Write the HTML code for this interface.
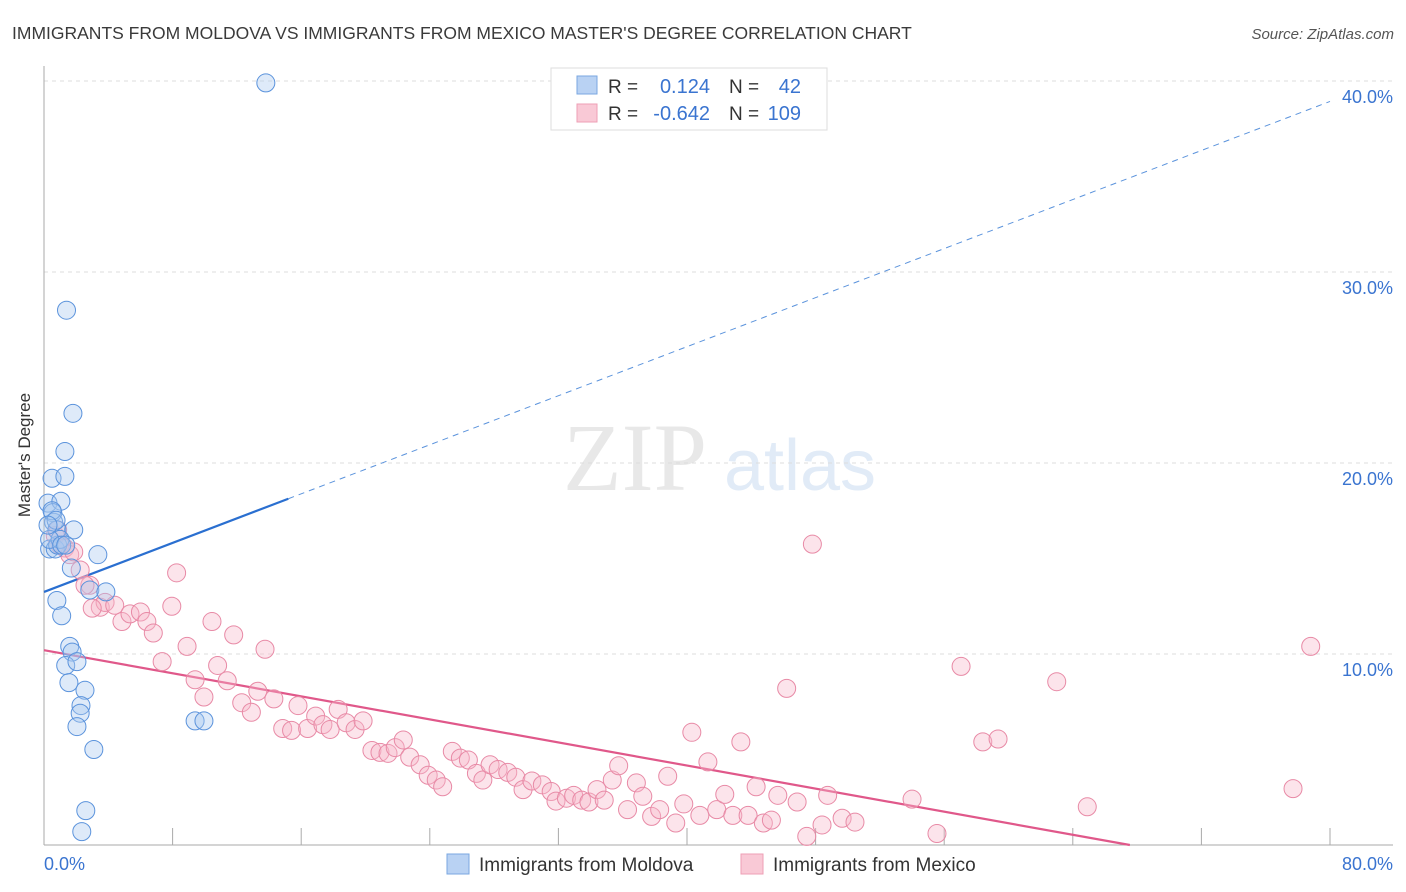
<!DOCTYPE html>
<html><head><meta charset="utf-8"><style>
body{margin:0;background:#fff;font-family:"Liberation Sans",sans-serif}
svg{display:block}
</style></head><body>
<svg id="chart" width="1406" height="892">
<text x="12" y="39" font-size="17.5" fill="#3a3a3a">IMMIGRANTS FROM MOLDOVA VS IMMIGRANTS FROM MEXICO MASTER'S DEGREE CORRELATION CHART</text>
<text x="1394" y="39" font-size="15" fill="#555" font-style="italic" text-anchor="end">Source: ZipAtlas.com</text>
<text x="30" y="455" font-size="17" fill="#333" text-anchor="middle" transform="rotate(-90 30 455)">Master's Degree</text>
<g><text x="635" y="490" font-size="96" fill="#e8e8e8" text-anchor="middle" font-family="Liberation Serif,serif">ZIP</text><text x="800" y="490" font-size="72" fill="#e1ebf7" text-anchor="middle">atlas</text></g>
<g id="grid"></g><g id="axes"></g><g id="lines"></g><g id="points"></g>
<g>
<rect x="551" y="68" width="276" height="62" fill="#fff" stroke="#ddd"/>
<rect x="577" y="76" width="20" height="18" fill="#b9d2f3" stroke="#7aa7e0"/>
<rect x="577" y="104" width="20" height="18" fill="#f9c9d6" stroke="#ee9fb5"/>
<text x="608" y="93" font-size="19" fill="#333">R =</text><text x="710" y="93" font-size="20" fill="#3a74d0" text-anchor="end">0.124</text>
<text x="729" y="93" font-size="19" fill="#333">N =</text><text x="801" y="93" font-size="20" fill="#3a74d0" text-anchor="end">42</text>
<text x="608" y="120" font-size="19" fill="#333">R =</text><text x="710" y="120" font-size="20" fill="#3a74d0" text-anchor="end">-0.642</text>
<text x="729" y="120" font-size="19" fill="#333">N =</text><text x="801" y="120" font-size="20" fill="#3a74d0" text-anchor="end">109</text>
</g>
<g>
<rect x="447" y="854" width="22" height="20" fill="#b9d2f3" stroke="#7aa7e0"/>
<text x="479" y="871" font-size="19" fill="#333">Immigrants from Moldova</text>
<rect x="741" y="854" width="22" height="20" fill="#f9c9d6" stroke="#ee9fb5"/>
<text x="773" y="871" font-size="19" fill="#333">Immigrants from Mexico</text>
</g>
</svg>
<script>
const yTicks=[10,20,30,40];
const yTickLabels=["10.0%","20.0%","30.0%","40.0%"];
const xTickLabels=["0.0%","80.0%"];
const moldovaX=[13.8,1.4,1.8,1.3,0.5,1.3,0.25,1.05,0.55,0.6,0.8,1.85,0.35,0.7,3.35,1.7,2.85,3.85,0.8,1.1,1.6,1.75,1.35,2.05,1.55,2.55,2.3,2.25,2.05,3.1,9.4,9.95,2.6,2.35,0.85,1.0,0.35,0.5,0.75,0.25,1.1,1.35];
const moldovaY=[39.9,28.0,22.6,20.6,19.2,19.3,17.9,18.0,17.4,16.9,16.5,16.5,15.5,15.5,15.2,14.5,13.35,13.25,12.8,12.0,10.4,10.1,9.4,9.6,8.5,8.1,7.3,6.9,6.2,5.0,6.5,6.5,1.8,0.7,15.7,16.0,16.0,17.5,17.0,16.75,15.7,15.7];
const mexicoX=[0.7,1.0,1.3,1.6,2.25,2.85,3.5,3.8,4.4,4.85,5.35,6.0,6.4,6.8,7.35,8.25,7.95,8.9,9.4,9.95,10.45,10.8,11.4,11.8,12.3,12.9,13.3,13.75,14.3,14.85,15.4,15.8,16.4,16.9,17.35,17.8,18.3,18.8,19.35,19.85,20.4,20.9,21.4,21.85,22.35,22.75,23.4,23.9,24.4,24.8,25.4,25.9,26.4,26.9,27.3,27.75,28.25,28.85,29.35,29.8,30.35,31.0,31.55,31.85,32.5,32.95,33.45,33.9,34.4,34.85,35.35,35.75,36.3,36.85,37.25,37.8,38.3,38.8,39.3,39.8,40.3,40.8,41.3,41.85,42.35,42.85,43.35,43.8,44.3,44.75,45.25,45.65,46.2,46.85,47.45,47.8,48.4,48.75,49.65,50.45,54.0,55.55,57.05,58.4,59.35,63.0,64.9,77.7,78.8,1.85,2.55,3.0,0.85];
const mexicoY=[16.2,15.7,15.55,15.2,14.4,13.6,12.45,12.7,12.55,11.7,12.1,12.2,11.7,11.1,9.6,14.25,12.5,10.4,8.65,7.75,11.7,9.4,8.6,11.0,7.45,6.95,8.05,10.25,7.65,6.1,6.0,7.3,6.1,6.75,6.3,6.05,7.1,6.4,6.05,6.5,4.95,4.85,4.8,5.1,5.5,4.6,4.2,3.65,3.4,3.05,4.9,4.55,4.45,3.75,3.4,4.2,3.95,3.8,3.55,2.9,3.35,3.15,2.8,2.3,2.45,2.6,2.35,2.25,2.9,2.35,3.4,4.15,1.85,3.25,2.55,1.5,1.85,3.6,1.15,2.15,5.9,1.55,4.35,1.85,2.65,1.55,5.4,1.55,3.05,1.15,1.3,2.6,8.2,2.25,0.45,15.75,1.05,2.6,1.4,1.2,2.4,0.6,9.35,5.4,5.55,8.55,2.0,2.95,10.4,15.35,13.6,12.4,16.5];
const moldovaFit=[13.25,0.321];
const mexicoFit=[10.2,-0.151];
const NS="http://www.w3.org/2000/svg";
const X0=44,X1=1330,Y0=845,PPY=19.1;
function sx(v){return X0+v/80*(X1-X0);}
function sy(v){return Y0-v*PPY;}
function mk(tag,attrs,parent){const e=document.createElementNS(NS,tag);for(const k in attrs)e.setAttribute(k,attrs[k]);parent.appendChild(e);return e;}
const grid=document.getElementById('grid'),axes=document.getElementById('axes'),lines=document.getElementById('lines'),pts=document.getElementById('points');
yTicks.forEach((t,i)=>{
 const g=mk('line',{x1:X0,x2:1393,y1:sy(t),y2:sy(t),stroke:'#ddd','stroke-dasharray':'4 4'},grid);
 
 
 const tx=mk('text',{x:1393,y:sy(t)+22,'font-size':18,fill:'#3a74d0','text-anchor':'end'},axes);
 tx.textContent=yTickLabels[i];
 
 
});
const ax=mk('line',{x1:X0,x2:X0,y1:66,y2:Y0,stroke:'#aaa'},axes);


const bx=mk('line',{x1:X0,x2:1393,y1:Y0,y2:Y0,stroke:'#aaa'},axes);


for(let k=1;k<=10;k++){const t=mk('line',{x1:sx(k*8),x2:sx(k*8),y1:828,y2:Y0,stroke:'#aaa'},axes);
 
 }
const xl0=mk('text',{x:44,y:870,'font-size':18,fill:'#3a74d0'},axes);xl0.textContent=xTickLabels[0];


const xl1=mk('text',{x:1393,y:870,'font-size':18,fill:'#3a74d0','text-anchor':'end'},axes);xl1.textContent=xTickLabels[1];


function dots(xs,ys,fill,stroke,name){xs.forEach((x,i)=>{const c=mk('circle',{cx:sx(x),cy:sy(ys[i]),r:9,fill:fill,'fill-opacity':0.38,stroke:stroke,'stroke-width':1},pts);
 
 });}
dots(mexicoX,mexicoY,'#f6b8ca','#e88aa6','mexico-point');
dots(moldovaX,moldovaY,'#a9c8f0','#5b93dc','moldova-point');
const bEnd=15.2;
const l1=mk('line',{x1:sx(0),y1:sy(moldovaFit[0]),x2:sx(bEnd),y2:sy(moldovaFit[0]+moldovaFit[1]*bEnd),stroke:'#2a6fd0','stroke-width':2.2},lines);


const l2=mk('line',{x1:sx(bEnd),y1:sy(moldovaFit[0]+moldovaFit[1]*bEnd),x2:sx(80),y2:sy(moldovaFit[0]+moldovaFit[1]*80),stroke:'#5b93dc','stroke-width':1,'stroke-dasharray':'6 5'},lines);


const mEnd=-mexicoFit[0]/mexicoFit[1];
const l3=mk('line',{x1:sx(0),y1:sy(mexicoFit[0]),x2:sx(mEnd),y2:sy(0),stroke:'#e0588a','stroke-width':2.2},lines);


</script>
</body></html>
